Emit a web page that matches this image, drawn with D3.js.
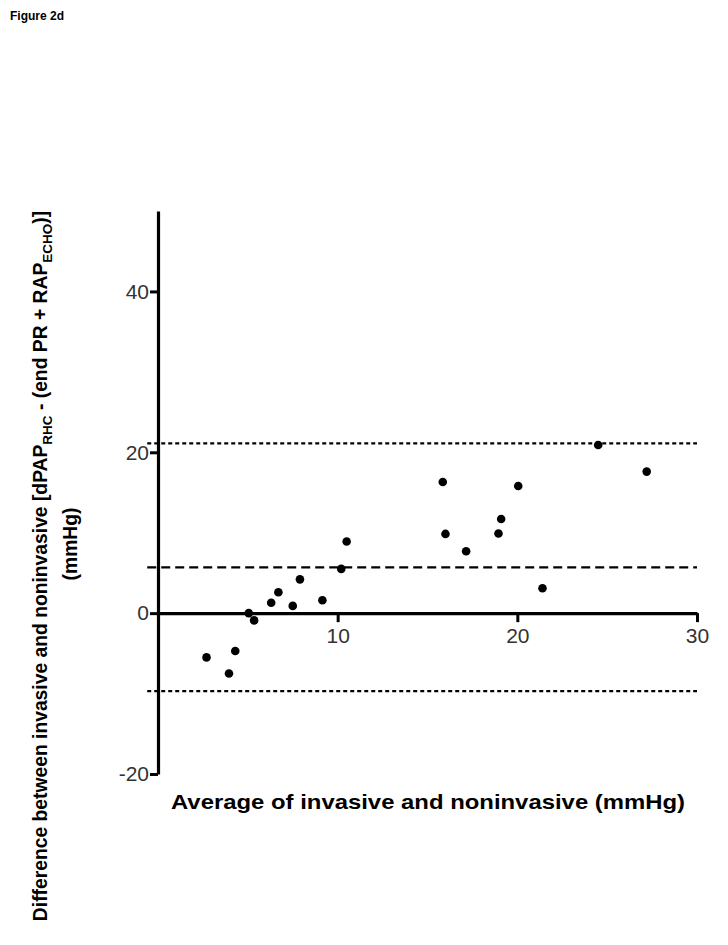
<!DOCTYPE html>
<html><head><meta charset="utf-8">
<script src="https://cdn.jsdelivr.net/npm/d3@7"></script>
<style>body{margin:0;background:#fff}svg{display:block}</style>
</head><body>
<script>
const avgValues  = [2.7, 3.95, 4.3, 5.05, 5.35, 6.3, 6.7, 7.5, 7.9, 9.15, 10.2, 10.5, 15.85, 16.0, 17.15, 18.95, 19.1, 20.05, 21.4, 24.5, 27.2];
const diffValues = [-5.5, -7.5, -4.7, 0.0, -0.9, 1.3, 2.6, 0.9, 4.2, 1.6, 5.5, 8.9, 16.3, 9.85, 7.7, 9.9, 11.7, 15.8, 3.1, 20.9, 17.6];
const meanBias = 5.7;
const upperLoA = 21.1;
const lowerLoA = -9.7;
const xTicks = [10, 20, 30];
const yTicks = [-20, 0, 20, 40];

const W = 728, H = 945;
const FF = "Liberation Sans, Arial, sans-serif";
const svg = d3.select("body").append("svg").attr("width", W).attr("height", H);

const x = d3.scaleLinear().domain([0, 30]).range([158, 697]);
const y = d3.scaleLinear().domain([-20, 50]).range([774, 211]);

svg.append("text").attr("x", 10).attr("y", 20).attr("font-family", FF)
  .attr("font-weight", "bold").attr("font-size", 12).text("Figure 2d");

// reference lines
const refs = [
  {v: upperLoA, dash: "4,3"},
  {v: meanBias, dash: "9,5"},
  {v: lowerLoA, dash: "4,3"}
];
svg.selectAll("line.ref").data(refs).enter().append("line").attr("class", "ref")
  .attr("x1", x(-0.6)).attr("x2", x(30)).attr("y1", d => y(d.v)).attr("y2", d => y(d.v))
  .attr("stroke", "#000").attr("stroke-width", 2.2).attr("stroke-dasharray", d => d.dash);

// Y axis
const yAxis = d3.axisLeft(y).tickValues(yTicks).tickSize(8).tickPadding(1).tickSizeOuter(0).tickFormat(d => String(d));
const gy = svg.append("g").attr("transform", `translate(${x(0)},0)`).call(yAxis);
gy.select(".domain").attr("stroke-width", 3.2);
gy.selectAll(".tick line").attr("stroke-width", 3);
gy.selectAll(".tick text").attr("font-family", FF).attr("font-size", 21).attr("fill", "#333");

// X axis at y=0
const xAxis = d3.axisBottom(x).tickValues(xTicks).tickSize(9).tickPadding(6).tickSizeOuter(0).tickFormat(d => String(d));
const gx = svg.append("g").attr("transform", `translate(0,${y(0)})`).call(xAxis);
gx.select(".domain").attr("stroke-width", 3.2);
gx.selectAll(".tick line").attr("stroke-width", 3);
gx.selectAll(".tick text").attr("font-family", FF).attr("font-size", 21).attr("fill", "#333");

// points
svg.selectAll("circle.pt").data(avgValues.map((a, i) => [a, diffValues[i]])).enter().append("circle")
  .attr("cx", d => x(d[0])).attr("cy", d => y(d[1])).attr("r", 4.3).attr("fill", "#000");

// axis titles
svg.append("text").attr("x", 428).attr("y", 809).attr("text-anchor", "middle")
  .attr("font-family", FF).attr("font-weight", "bold").attr("font-size", 21)
  .attr("textLength", 514).attr("lengthAdjust", "spacingAndGlyphs")
  .text("Average of invasive and noninvasive (mmHg)");

const yl = svg.append("text").attr("transform", "translate(47,566) rotate(-90)").attr("text-anchor", "middle")
  .attr("font-family", FF).attr("font-weight", "bold").attr("font-size", 19.3);
yl.append("tspan").text("Difference between invasive and noninvasive [dPAP");
yl.append("tspan").attr("font-size", 13.5).attr("dy", 5).text("RHC");
yl.append("tspan").attr("dy", -5).text(" - (end PR + RAP");
yl.append("tspan").attr("font-size", 13.5).attr("dy", 5).text("ECHO");
yl.append("tspan").attr("dy", -5).text(")]");

svg.append("text").attr("transform", "translate(77,544) rotate(-90)").attr("text-anchor", "middle")
  .attr("font-family", FF).attr("font-weight", "bold").attr("font-size", 19.3)
  .text("(mmHg)");
</script>
</body></html>
